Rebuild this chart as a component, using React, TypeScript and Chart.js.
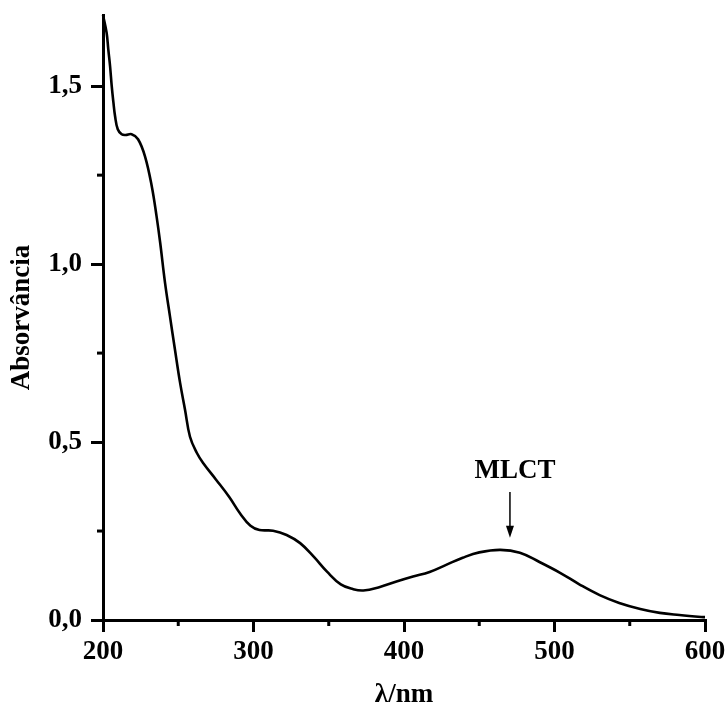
import React, { useEffect, useRef } from "react";
import { Chart, registerables } from "chart.js";

Chart.register(...registerables);

const wavelengths = [
  200, 202.4, 203.5, 204.7, 205.8, 206.9, 208, 209.8, 212.4, 215, 219, 223.3, 227.9, 232.4, 235.6, 238,
  241.2, 244.5, 247.8, 251.2, 254.5, 257.8, 262.3, 266.4, 275, 284, 291, 298, 304, 313, 322, 331, 340,
  349, 358, 366, 373, 384, 395, 406, 417, 428, 439, 450, 464, 477, 490, 504, 517, 530, 543, 557, 570,
  583, 599, 600,
];
const absorbance = [
  1.7, 1.65, 1.604, 1.556, 1.5, 1.455, 1.416, 1.379, 1.365, 1.363, 1.365, 1.351, 1.303, 1.219, 1.134,
  1.06, 0.948, 0.853, 0.76, 0.667, 0.591, 0.515, 0.47, 0.442, 0.395, 0.345, 0.3, 0.265, 0.253, 0.251,
  0.239, 0.216, 0.178, 0.135, 0.1, 0.087, 0.083, 0.093, 0.108, 0.122, 0.135, 0.155, 0.175, 0.19, 0.197,
  0.189, 0.163, 0.132, 0.099, 0.07, 0.048, 0.031, 0.02, 0.014, 0.008, 0.008,
];
const xTicks = [200, 300, 400, 500, 600];
const xMinorTicks = [250, 350, 450, 550];
const yTicks = [0, 0.5, 1.0, 1.5];
const yMinorTicks = [0.25, 0.75, 1.25];
const xTitle = "λ/nm";
const yTitle = "Absorvância";
const annotationText = "MLCT";
const annotationPos = { x: 473.8, y: 0.4 };
const arrowFrom = { x: 470.4, y: 0.36 };
const arrowTo = { x: 470.4, y: 0.231 };

const FONT = "'Liberation Serif', 'Times New Roman', serif";

const extrasPlugin = {
  id: "extras",
  afterDraw(chart: any) {
    const ctx = chart.ctx;
    const xs = chart.scales.x;
    const ys = chart.scales.y;
    const area = chart.chartArea;
    ctx.save();
    ctx.strokeStyle = "#000";
    ctx.lineWidth = 3;
    for (const v of xMinorTicks) {
      const px = xs.getPixelForValue(v);
      ctx.beginPath();
      ctx.moveTo(px, area.bottom);
      ctx.lineTo(px, area.bottom + 6);
      ctx.stroke();
    }
    for (const v of yMinorTicks) {
      const py = ys.getPixelForValue(v);
      ctx.beginPath();
      ctx.moveTo(area.left, py);
      ctx.lineTo(area.left - 6, py);
      ctx.stroke();
    }
    ctx.fillStyle = "#000";
    ctx.font = `bold 27px ${FONT}`;
    ctx.textAlign = "center";
    ctx.textBaseline = "alphabetic";
    ctx.fillText(annotationText, xs.getPixelForValue(annotationPos.x), ys.getPixelForValue(annotationPos.y));
    const ax = xs.getPixelForValue(arrowFrom.x);
    const ay1 = ys.getPixelForValue(arrowFrom.y);
    const ay2 = ys.getPixelForValue(arrowTo.y);
    ctx.lineWidth = 1.5;
    ctx.beginPath();
    ctx.moveTo(ax, ay1);
    ctx.lineTo(ax, ay2 - 8);
    ctx.stroke();
    ctx.beginPath();
    ctx.moveTo(ax - 4, ay2 - 12);
    ctx.lineTo(ax + 4, ay2 - 12);
    ctx.lineTo(ax, ay2);
    ctx.closePath();
    ctx.fill();
    ctx.restore();
  },
};

export default function App() {
  const canvasRef = useRef<HTMLCanvasElement>(null);

  useEffect(() => {
    const canvas = canvasRef.current;
    if (!canvas) return;
    const points = wavelengths.map((x, i) => ({ x, y: absorbance[i] }));
    const fmt = (v: number) => v.toFixed(1).replace(".", ",");
    const gridOpts = {
      display: true,
      drawOnChartArea: false,
      drawTicks: true,
      tickLength: 12,
      tickWidth: 3,
      tickColor: "#000",
      color: "#000",
      lineWidth: 3,
    };
    const chart = new Chart(canvas, {
      type: "line",
      data: {
        datasets: [
          {
            data: points,
            borderColor: "#000",
            borderWidth: 2.6,
            pointRadius: 0,
            fill: false,
            tension: 0.4,
            clip: false as any,
          },
        ],
      },
      options: {
        responsive: false,
        animation: false,
        devicePixelRatio: 1,
        layout: { padding: { top: 15, right: 23, left: 0, bottom: 0 } },
        plugins: { legend: { display: false }, tooltip: { enabled: false } },
        scales: {
          x: {
            type: "linear",
            min: 200,
            max: 600,
            afterBuildTicks: (scale: any) => {
              scale.ticks = xTicks.map((v) => ({ value: v }));
            },
            afterFit: (scale: any) => {
              scale.height = 91;
              scale.paddingLeft = 0;
              scale.paddingRight = 0;
            },
            border: { display: true, color: "#000", width: 3 },
            grid: gridOpts,
            ticks: {
              color: "#000",
              padding: 4,
              maxRotation: 0,
              font: { family: FONT, size: 27, weight: "bold" },
              callback: (v: any) => String(v),
            },
            title: {
              display: true,
              text: xTitle,
              color: "#000",
              padding: { top: 0, bottom: 0 },
              font: { family: FONT, size: 27, weight: "bold" },
            },
          },
          y: {
            type: "linear",
            min: 0,
            max: 1.7,
            afterBuildTicks: (scale: any) => {
              scale.ticks = yTicks.map((v) => ({ value: v }));
            },
            afterFit: (scale: any) => {
              scale.width = 103;
              scale.paddingTop = 0;
              scale.paddingBottom = 0;
            },
            border: { display: true, color: "#000", width: 3 },
            grid: gridOpts,
            ticks: {
              color: "#000",
              padding: 9,
              font: { family: FONT, size: 27, weight: "bold" },
              callback: (v: any) => fmt(Number(v)),
            },
            title: {
              display: true,
              text: yTitle,
              color: "#000",
              padding: { top: 6, bottom: 0 },
              font: { family: FONT, size: 27, weight: "bold" },
            },
          },
        },
      },
      plugins: [extrasPlugin],
    } as any);
    return () => chart.destroy();
  }, []);

  return (
    <div style={{ position: "absolute", left: 0, top: 0, width: 728, height: 711, background: "#fff" }}>
      <canvas ref={canvasRef} width={728} height={711} style={{ display: "block" }} />
    </div>
  );
}
